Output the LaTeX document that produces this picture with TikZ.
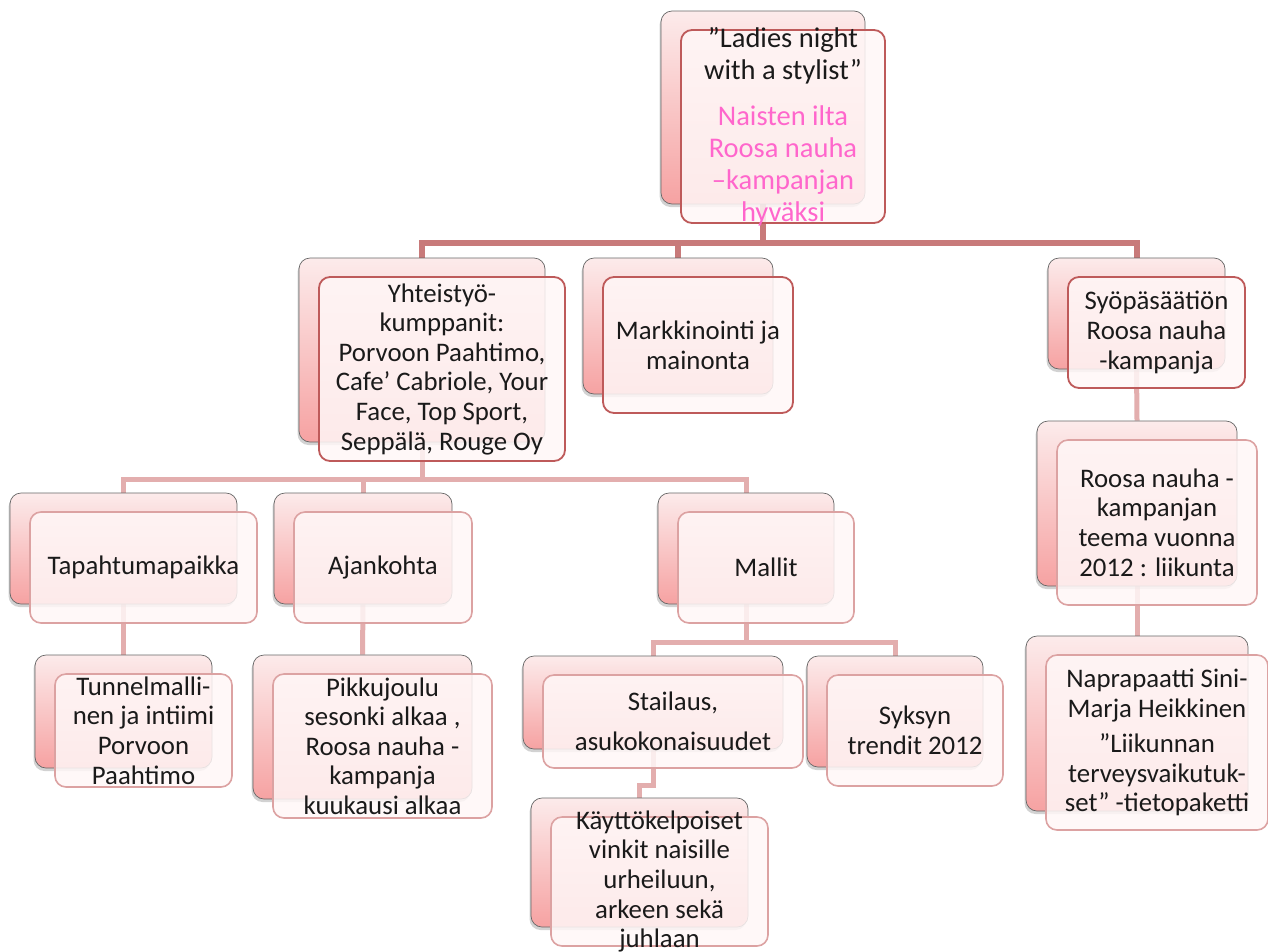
\documentclass[tikz,border=0pt]{standalone}
\usepackage{fontspec}
\setmainfont{Carlito}
\usetikzlibrary{shadows,backgrounds}
\definecolor{bustop}{HTML}{C87A7A}
\definecolor{buslow}{HTML}{E3AEAE}
\definecolor{edgetop}{HTML}{BE5A5A}
\definecolor{edgelow}{HTML}{DCA2A2}
\definecolor{pinktop}{HTML}{FCEBEB}
\definecolor{pinkbot}{HTML}{F6A2A2}
\definecolor{naispink}{HTML}{FF66CC}
\definecolor{txt}{HTML}{1A1A1A}
\tikzset{
  backbox/.style={draw=black!60, line width=0.7pt, rounded corners=11pt,
    top color=pinktop, bottom color=pinkbot,
    drop shadow={shadow xshift=-1.5pt, shadow yshift=-3pt, opacity=0.35},
    inner sep=0pt},
  frontbox/.style={fill=white!97!red, fill opacity=0.85, rounded corners=11pt,
    line width=1.8pt, inner sep=0pt},
  toplevel/.style={draw=edgetop},
  lowlevel/.style={draw=edgelow, line width=1.6pt},
  textblock/.style={align=center, font=\fontsize{26.8}{29.6}\selectfont,
    text=txt, inner sep=0pt},
  busA/.style={draw=bustop, line width=6pt},
  busB/.style={draw=buslow, line width=5pt},
}
\newcommand{\twinbox}[7]{%
  \node[backbox, minimum width=#4pt, minimum height=#5pt] (#1-b) at (#2-20,#3-19) {};
  \node[frontbox, #6, minimum width=#4pt, minimum height=#5pt] (#1) at (#2,#3) {};
  \node[textblock] (#1-t) at (#1.center) {#7};
}
\begin{document}
\begin{tikzpicture}[x=1pt, y=-1pt]
\useasboundingbox (0,0) rectangle (1268,951);
% top box
\node[backbox, minimum width=204pt, minimum height=193pt] (top-b) at (763,107.5) {};
\node[frontbox, toplevel, minimum width=204pt, minimum height=193pt] (top) at (783,126.5) {};
\node[textblock, font=\fontsize{28.5}{32}\selectfont] (top-t) at (top.center)
  {”Ladies night\\ with a stylist”\\[14pt]
   \textcolor{naispink}{Naisten ilta}\\ \textcolor{naispink}{Roosa nauha}\\
   \textcolor{naispink}{–kampanjan}\\ \textcolor{naispink}{hyväksi}};
% level 2
\twinbox{yht}{442}{369}{246}{184}{toplevel}{Yhteistyö-\\ kumppanit:\\ Porvoon Paahtimo,\\ Cafe’ Cabriole, Your\\ Face, Top Sport,\\ Seppälä, Rouge Oy}
\twinbox{mark}{698}{345}{190}{136}{toplevel}{Markkinointi ja\\ mainonta}
\twinbox{syo}{1156.5}{332.5}{177}{111}{toplevel}{Syöpäsäätiön\\ Roosa nauha\\ -kampanja}
% level 3
\twinbox{roosa}{1157}{522.5}{200}{165}{lowlevel}{Roosa nauha -\\ kampanjan\\ teema vuonna\\ 2012 : liikunta}
\twinbox{napra}{1157}{742.5}{222}{175}{lowlevel}{Naprapaatti Sini-\\ Marja Heikkinen\\[6pt] ”Liikunnan\\ terveysvaikutuk-\\ set” -tietopaketti}
\twinbox{tap}{143.5}{567.5}{227}{111}{lowlevel}{Tapahtumapaikka}
\twinbox{ajan}{383}{567.5}{178}{111}{lowlevel}{Ajankohta}
\twinbox{mallit}{766}{567.5}{176}{111}{lowlevel}{Mallit}
% level 4
\twinbox{tunnel}{143.5}{730.5}{177}{113}{lowlevel}{Tunnelmalli-\\ nen ja intiimi\\ Porvoon\\ Paahtimo}
\twinbox{pikku}{382.5}{746}{219}{144}{lowlevel}{Pikkujoulu\\ sesonki alkaa ,\\ Roosa nauha -\\ kampanja\\ kuukausi alkaa}
\twinbox{stail}{673}{721.5}{260}{93}{lowlevel}{Stailaus,\\[10pt] asukokonaisuudet}
\twinbox{syksyn}{915}{730.5}{176}{111}{lowlevel}{Syksyn\\ trendit 2012}
\twinbox{kaytto}{659.5}{881.5}{217}{129}{lowlevel}{Käyttökelpoiset\\ vinkit naisille\\ urheiluun,\\ arkeen sekä\\ juhlaan}
% connectors
\coordinate (bus1) at (0,243);
\coordinate (bus2) at (0,479);
\coordinate (bus3) at (0,642);
\coordinate (elb) at (0,785);
\begin{scope}[on background layer]
  \fill[white] (0,0) rectangle (1268,951);
  \draw[busA] (top-b.south) -- (top-b.south |- bus1) -| (yht-b.north);
  \draw[busA] (top-b.south |- bus1) -| (syo-b.north);
  \draw[busA] (mark-b.north |- bus1) -- (mark-b.north);
  \draw[busB] (yht-b.south) -- (yht-b.south |- bus2) -| (tap-b.north);
  \draw[busB] (yht-b.south |- bus2) -| (mallit-b.north);
  \draw[busB] (ajan-b.north |- bus2) -- (ajan-b.north);
  \draw[busB] (syo-b.south) -- (roosa-b.north);
  \draw[busB] (roosa-b.south) -- (napra-b.north);
  \draw[busB] (tap-b.south) -- (tunnel-b.north);
  \draw[busB] (ajan-b.south) -- (pikku-b.north);
  \draw[busB] (mallit-b.south) -- (mallit-b.south |- bus3) -| (stail-b.north);
  \draw[busB] (mallit-b.south |- bus3) -| (syksyn-b.north);
  \draw[busB] (stail-b.south) -- (stail-b.south |- elb) -| (kaytto-b.north);
\end{scope}
\end{tikzpicture}
\end{document}
